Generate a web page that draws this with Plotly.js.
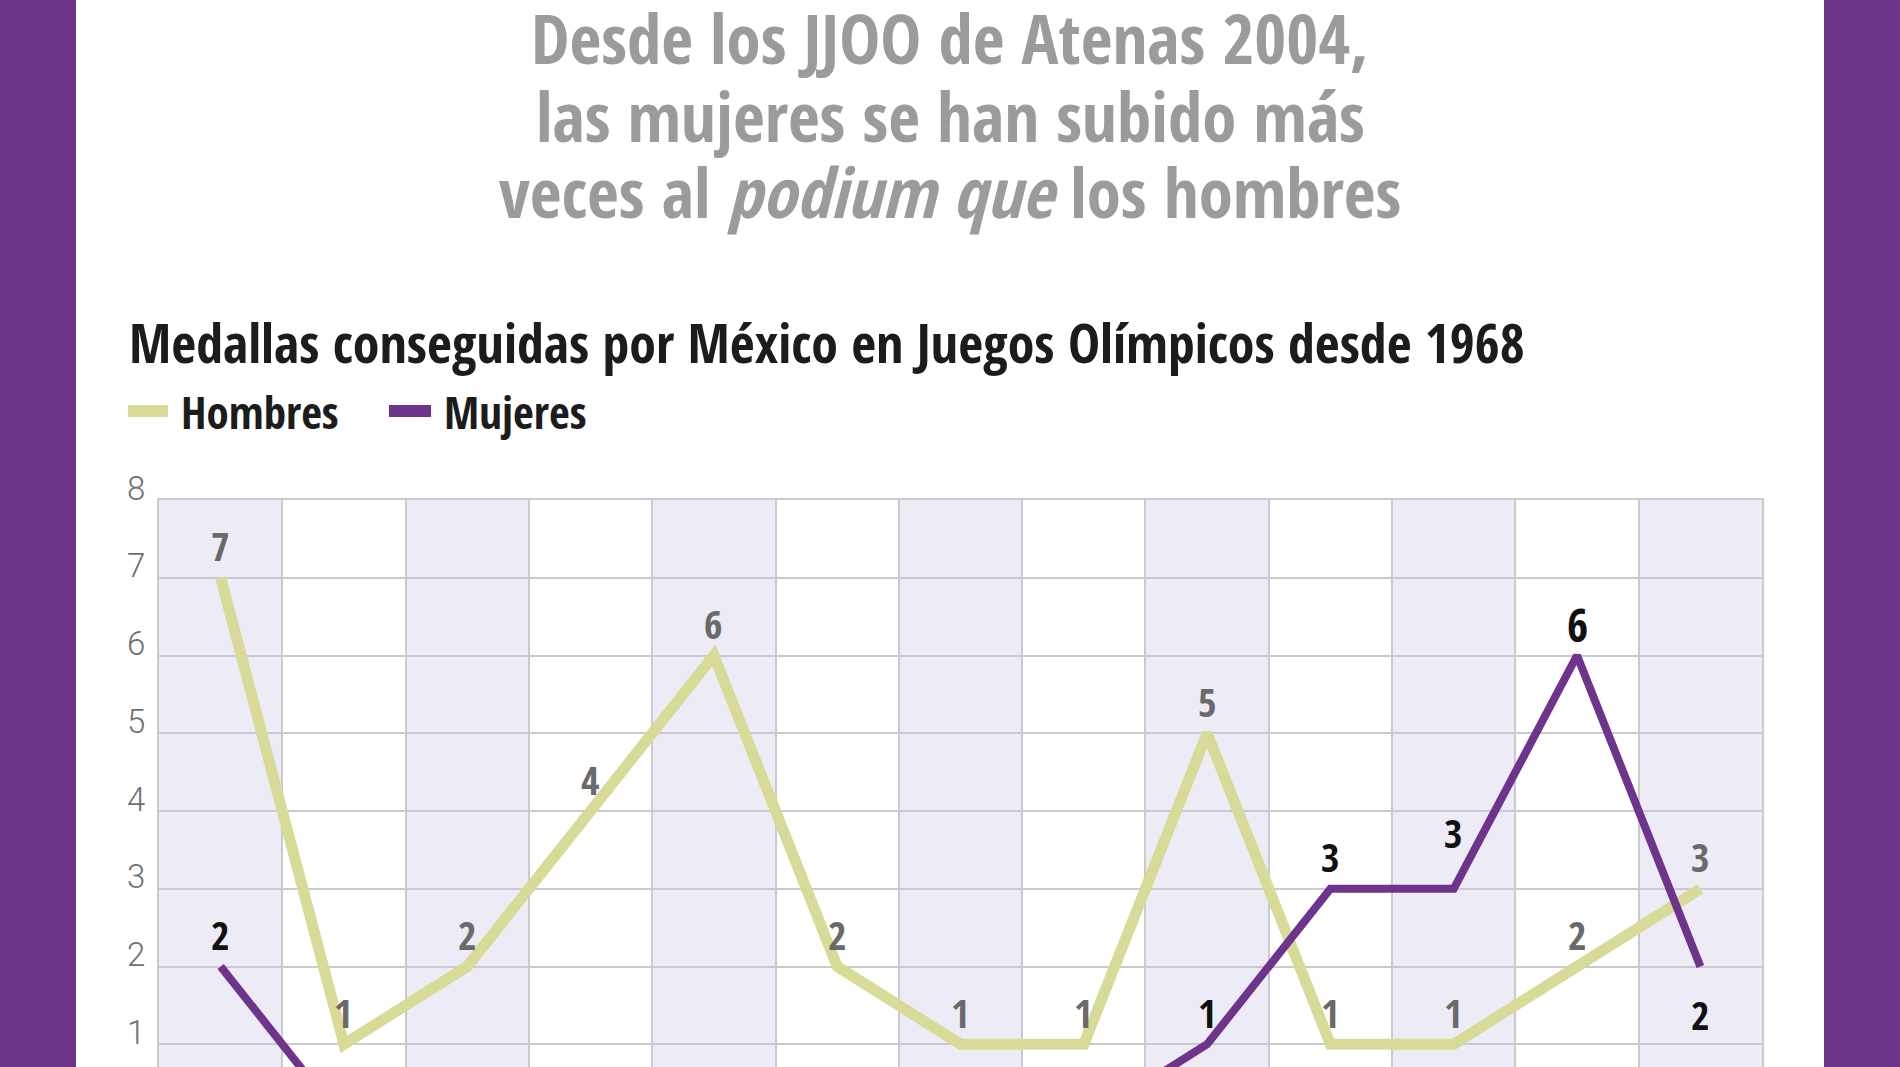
<!DOCTYPE html>
<html>
<head>
<meta charset="utf-8">
<script src="https://cdn.plot.ly/plotly-3.0.1.min.js"></script>
<style>
  html, body { margin: 0; padding: 0; background: #ffffff; overflow: hidden; }
  #chart { position: absolute; left: 0; top: 0; width: 1900px; height: 1200px; }
  .bar { position: absolute; top: 0; width: 76px; height: 1067px; background: #6e348b; }
</style>
</head>
<body>
<div id="chart"></div>
<div class="bar" style="left:0"></div>
<div class="bar" style="left:1824px"></div>
<script>
const years = ['1968', '1972', '1976', '1980', '1984', '1988', '1992',
               '1996', '2000', '2004', '2008', '2012', '2016'];
const hombres = [7, 1, 2, 4, 6, 2, 1, 1, 5, 1, 1, 2, 3];
const mujeres = [2, 0, 0, 0, 0, 0, 0, 0, 1, 3, 3, 6, 2];
// women only get a label once they are on the podium
const mujeresLabeled = [true, false, false, false, false, false, false, false, true, true, true, true, true];

const titleLines = [
  'Desde los JJOO de Atenas 2004,',
  'las mujeres se han subido más',
  'veces al <i>podium que</i> los hombres'
];
const chartTitle = 'Medallas conseguidas por México en Juegos Olímpicos desde 1968';
const yTicks = [1, 2, 3, 4, 5, 6, 7, 8];

const FONT = '"Open Sans Condensed", "Roboto Condensed", sans-serif';
const TICKFONT = 'Roboto, "Open Sans", sans-serif';
const M = {l: 159, r: 138, t: 500, b: 78};
const W = 1900, H = 1200;
const plotW = W - M.l - M.r, plotH = H - M.t - M.b;

// pixel position on the page -> paper coordinates
const px = x => (x - M.l) / plotW;
const py = y => (H - M.b - y) / plotH;

const green = '#d7db97';
const purple = '#6e348b';

const traceH = {
  x: years,
  y: hombres,
  name: 'Hombres',
  type: 'scatter',
  mode: 'lines',
  line: {color: green, width: 11},
  hoverinfo: 'skip'
};
const traceM = {
  x: years,
  y: mujeres,
  name: 'Mujeres',
  type: 'scatter',
  mode: 'lines',
  line: {color: purple, width: 8},
  hoverinfo: 'skip'
};

const shapes = [];
const annotations = [];

// shaded columns, every other year
years.forEach((y, i) => {
  if (i % 2 === 0) {
    shapes.push({
      type: 'rect', xref: 'x', yref: 'paper',
      x0: i - 0.5, x1: i + 0.5, y0: 0, y1: 1,
      fillcolor: '#edecf6', line: {width: 0}, layer: 'below'
    });
  }
});

// value labels (x given as category index)
years.forEach((y, i) => {
  annotations.push({
    x: i, y: hombres[i], yshift: 32, showarrow: false,
    text: String(hombres[i]),
    font: {family: FONT, size: 40, color: '#6a6a6a', weight: 'bold'}
  });
  if (mujeresLabeled[i]) {
    let shift = 32;
    if (i === 10) shift = 56;
    if (i === 12) shift = -48;
    const big = mujeres[i] === Math.max(...mujeres);
    annotations.push({
      x: i, y: mujeres[i], yshift: shift, showarrow: false,
      text: String(mujeres[i]),
      font: {family: FONT, size: big ? 46 : 40, color: '#111111', weight: 'bold'}
    });
  }
});

// headline
const titleY = [37, 115, 191];
titleLines.forEach((t, i) => {
  annotations.push({
    xref: 'paper', yref: 'paper', x: px(950), y: py(titleY[i]),
    xanchor: 'center', yanchor: 'middle', showarrow: false, text: t,
    font: {family: FONT, size: 69, color: '#9b9b9b', weight: 'bold'}
  });
});

annotations.push({
  xref: 'paper', yref: 'paper', x: px(127), y: py(342),
  xanchor: 'left', yanchor: 'middle', showarrow: false, text: chartTitle,
  font: {family: FONT, size: 54, color: '#1c1c1c', weight: 'bold'}
});

// legend
[[traceH, 128, 168, 179], [traceM, 389, 431, 442]].forEach(([tr, x0, x1, tx]) => {
  shapes.push({
    type: 'rect', xref: 'paper', yref: 'paper',
    x0: px(x0), x1: px(x1), y0: py(417), y1: py(405),
    fillcolor: tr.line.color, line: {width: 0}
  });
  annotations.push({
    xref: 'paper', yref: 'paper', x: px(tx), y: py(411),
    xanchor: 'left', yanchor: 'middle', showarrow: false, text: tr.name,
    font: {family: FONT, size: 45, color: '#1c1c1c', weight: 'bold'}
  });
});

const layout = {
  width: W,
  height: H,
  margin: M,
  paper_bgcolor: 'rgba(0,0,0,0)',
  plot_bgcolor: '#ffffff',
  showlegend: false,
  font: {family: FONT},
  xaxis: {
    type: 'category',
    range: [-0.5, years.length - 0.5],
    tickson: 'boundaries',
    showgrid: true,
    gridcolor: '#c9c9cf',
    gridwidth: 2,
    showline: true,
    mirror: true,
    linecolor: '#c9c9cf',
    linewidth: 2,
    ticks: '',
    showticklabels: false,
    fixedrange: true
  },
  yaxis: {
    range: [0, 8],
    tickvals: yTicks,
    showgrid: true,
    gridcolor: '#c9c9cf',
    gridwidth: 2,
    zeroline: false,
    showline: true,
    mirror: true,
    linecolor: '#c9c9cf',
    linewidth: 2,
    ticks: '',
    ticklabelstandoff: 5,
    ticklabelshift: -12,
    tickfont: {family: TICKFONT, size: 33, color: '#707070', weight: 300},
    fixedrange: true
  },
  shapes: shapes,
  annotations: annotations
};

Plotly.newPlot('chart', [traceH, traceM], layout, {displayModeBar: false, staticPlot: true});
</script>
</body>
</html>
